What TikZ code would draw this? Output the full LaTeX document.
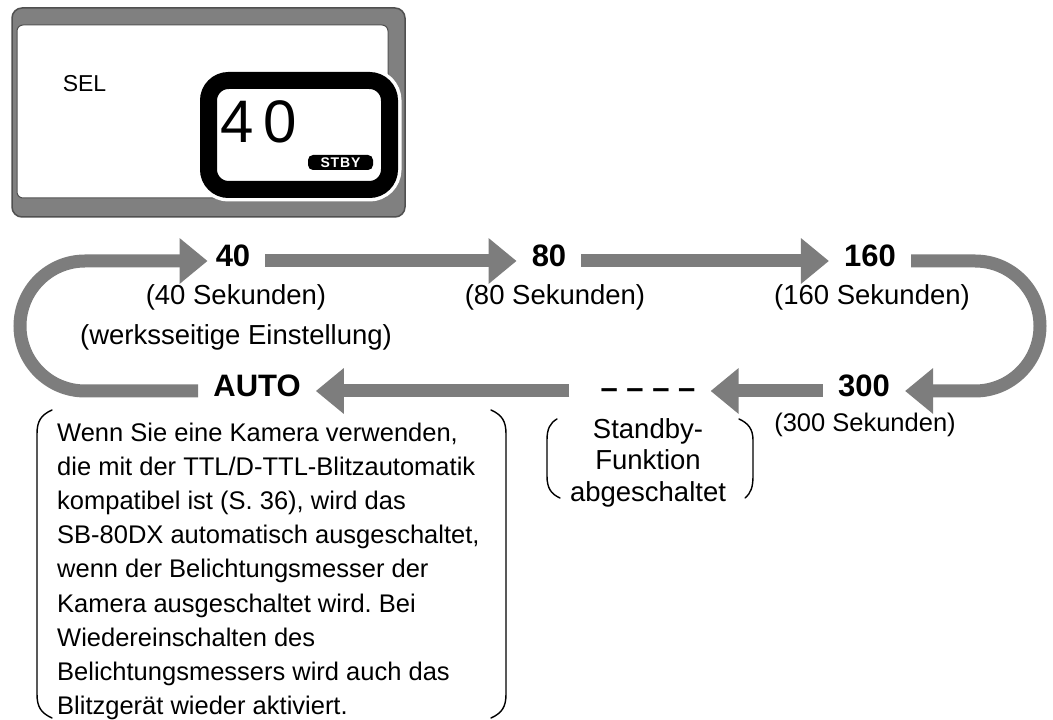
\documentclass[tikz,border=0pt]{standalone}
\usepackage{fontspec}
\setmainfont{Liberation Sans}
\usetikzlibrary{arrows.meta}
\definecolor{arrowgray}{RGB}{125,125,125}
\definecolor{framegray}{RGB}{128,128,128}
\definecolor{framedark}{RGB}{80,80,80}
\newcommand\lblfont{\fontsize{31}{36}\selectfont\bfseries}
\newcommand\subfont{\fontsize{27.5}{40}\selectfont}
\frenchspacing
\begin{document}
\begin{tikzpicture}[x=1pt,y=1pt,
  bigarrow/.style={draw=arrowgray, line width=13pt,
     -{Triangle[length=28pt 0 0,width=44pt 0 0]}},
  lbl/.style={font=\lblfont, anchor=base, inner xsep=15pt, inner ysep=0pt},
  sublbl/.style={font=\subfont, anchor=north, align=center, inner sep=0pt},
  bracket/.style={draw=black, line width=1.4pt, line cap=round}]
\useasboundingbox (0,0) rectangle (1053,720);

% ---------- LCD panel ----------
\draw[framedark, fill=framegray, line width=1.5pt, rounded corners=10pt]
  (12,503) rectangle (405,712);
\draw[framedark, fill=white, line width=1pt, rounded corners=6pt]
  (17,522) rectangle (388,695);
\draw[white, line width=24pt, rounded corners=20pt]
  (208.5,530.5) rectangle (389.5,639.5);
\draw[black, fill=white, line width=17pt, rounded corners=20pt]
  (208.5,530.5) rectangle (389.5,639.5);
\node[font=\fontsize{23}{26}\selectfont, inner sep=0pt] (sel) at (84.5,636.5) {SEL};
\node[font=\fontsize{60}{62}\selectfont, inner sep=0pt] (lcd40) at (258.5,598.5) {4\,0};
\node[fill=black, rounded corners=5pt, text=white, inner sep=0pt,
      minimum width=65pt, minimum height=15pt,
      font=\fontsize{14}{15}\selectfont\bfseries\addfontfeature{LetterSpace=6}] (stby) at (340.5,557.5) {STBY};

% ---------- row coordinates ----------
\coordinate (top) at (0,459);
\coordinate (bot) at (0,329);
\coordinate (rtop) at (975,459);
\coordinate (lbot) at (85,329);

% ---------- main labels ----------
\node[lbl] (n40)   at (233,453) {40};
\node[lbl] (n80)   at (549,453) {80};
\node[lbl] (n160)  at (870,453) {160};
\node[lbl] (n300)  at (864,323) {300};
\node[lbl] (ndash) at (648,321) {– – – –};
\node[lbl] (nauto) at (257,323) {AUTO};

% ---------- sub labels ----------
\node[sublbl] (s40)  at (236,436) {(40 Sekunden)\\(werksseitige Einstellung)};
\node[sublbl] (s80)  at (555,436) {(80 Sekunden)};
\node[sublbl] (s160) at (872,436) {(160 Sekunden)};
\node[sublbl, font=\fontsize{25.5}{30}\selectfont] (s300) at (865,307) {(300 Sekunden)};

\node[font=\fontsize{27.5}{31.5}\selectfont, anchor=north, align=center, inner sep=0pt]
  (sby) at (648,302) {Standby-\\Funktion\\abgeschaltet};

\node[font=\fontsize{25.5}{34.2}\selectfont, anchor=north west, align=left, inner sep=0pt]
  (para) at (57,297.5) {Wenn Sie eine Kamera verwenden,\\
die mit der TTL/D-TTL-Blitzautomatik\\
kompatibel ist (S. 36), wird das\\
SB-80DX automatisch ausgeschaltet,\\
wenn der Belichtungsmesser der\\
Kamera ausgeschaltet wird. Bei\\
Wiedereinschalten des\\
Belichtungsmessers wird auch das\\
Blitzgerät wieder aktiviert.};

% ---------- brackets ----------
\draw[bracket] (52,310) .. controls (41,305) and (37,299) .. (37,286)
  -- (37,26) .. controls (37,13) and (41,7) .. (52,2);
\draw[bracket] (491,310) .. controls (502,305) and (506,299) .. (506,286)
  -- (506,26) .. controls (506,13) and (502,7) .. (491,2);
\draw[bracket] (557,301) .. controls (550,297) and (547,291) .. (547,280)
  -- (547,244) .. controls (547,232) and (551,226) .. (560,222);
\draw[bracket] (739,301) .. controls (748,297) and (753,291) .. (753,280)
  -- (753,244) .. controls (753,233) and (751,227) .. (745,222);

% ---------- connectors ----------
\draw[bigarrow] (n40.east |- top) -- (n80.west |- top);
\draw[bigarrow] (n80.east |- top) -- (n160.west |- top);
\draw[bigarrow] (n160.east |- top) -- (rtop)
  arc[start angle=90, end angle=-90, radius=65pt] -- (n300.east |- bot);
\draw[bigarrow] (n300.west |- bot) -- (ndash.east |- bot);
\draw[bigarrow, shorten <=16pt] (ndash.west |- bot) -- (nauto.east |- bot);
\draw[bigarrow, shorten >=-7pt] (nauto.west |- bot) -- (lbot)
  arc[start angle=270, end angle=90, radius=65pt] -- (n40.west |- top);
\end{tikzpicture}
\end{document}
